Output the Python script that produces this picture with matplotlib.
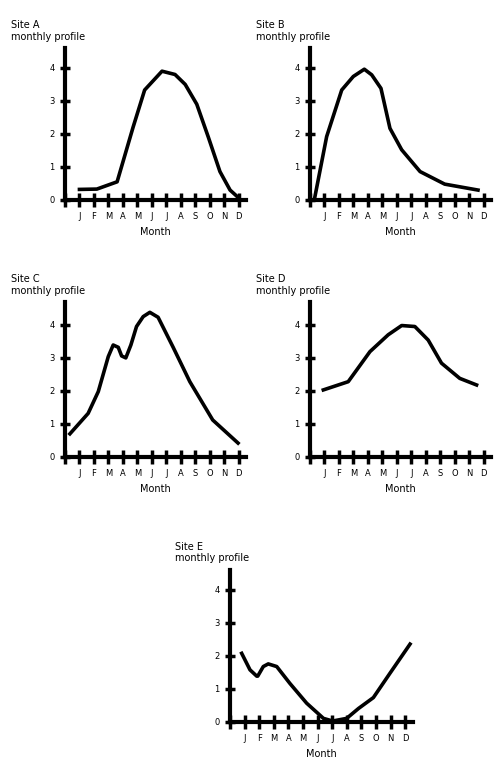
import matplotlib
matplotlib.use("Agg")
import matplotlib.pyplot as plt

# panel data (x = month position, y = value)
x1 = [1.0, 2.2, 3.6, 4.7, 5.5, 6.7, 7.6, 8.3, 9.1, 9.9, 10.7, 11.4, 11.9]
y1 = [0.32, 0.33, 0.55, 2.2, 3.33, 3.9, 3.8, 3.5, 2.9, 1.9, 0.86, 0.3, 0.1]

x2 = [0.34, 1.15, 2.19, 2.99, 3.75, 4.26, 4.9, 5.52, 6.33, 7.6, 9.3, 11.6]
y2 = [0.1, 1.92, 3.33, 3.74, 3.96, 3.79, 3.38, 2.17, 1.52, 0.86, 0.48, 0.3]

x3 = [0.34, 1.6, 2.3, 2.99, 3.33, 3.68, 3.91, 4.2, 4.55, 4.94, 5.4, 5.86,
      6.43, 7.47, 8.62, 10.2, 11.95]
y3 = [0.7, 1.32, 1.98, 3.04, 3.39, 3.32, 3.06, 3.0, 3.39, 3.95, 4.25, 4.38,
      4.23, 3.32, 2.28, 1.12, 0.42]

x4 = [0.92, 2.64, 4.14, 5.4, 6.33, 7.24, 8.16, 9.08, 10.34, 11.5]
y4 = [2.03, 2.28, 3.19, 3.7, 3.98, 3.95, 3.54, 2.84, 2.38, 2.18]

x5 = [0.8, 1.37, 1.83, 1.9, 2.28, 2.62, 3.2, 4.1, 5.25, 6.4, 7.03, 7.99,
      8.8, 9.82, 10.96, 12.33]
y5 = [2.07, 1.57, 1.38, 1.38, 1.67, 1.75, 1.67, 1.16, 0.56, 0.1, 0.02, 0.1,
      0.4, 0.73, 1.47, 2.35]

titles = ["Site A\nmonthly profile", "Site B\nmonthly profile",
          "Site C\nmonthly profile", "Site D\nmonthly profile",
          "Site E\nmonthly profile"]
months = ["", "J", "F", "M", "A", "M", "J", "J", "A", "S", "O", "N", "D"]
yticks = [0, 1, 2, 3, 4]

fig = plt.figure(figsize=(4.96, 7.83), dpi=100)

# axes boxes in figure fractions
boxes = [[0.131, 0.7446, 0.365, 0.194],
         [0.625, 0.7446, 0.365, 0.194],
         [0.131, 0.4164, 0.365, 0.198],
         [0.625, 0.4164, 0.365, 0.198],
         [0.4637, 0.0783, 0.368, 0.194]]
xs = [x1, x2, x3, x4, x5]
ys = [y1, y2, y3, y4, y5]

for box, x, y, t in zip(boxes, xs, ys, titles):
    ax = fig.add_axes(box)
    ax.plot(x, y, color="black", lw=2.6, solid_joinstyle="round")
    ax.set_xlim(0, 12.5)
    ax.set_ylim(0, 4.6 * box[3] / 0.194)
    for s in ["top", "right"]:
        ax.spines[s].set_visible(False)
    for s in ["left", "bottom"]:
        ax.spines[s].set_linewidth(3)
    ax.set_xticks(range(13))
    ax.set_xticklabels(months, fontsize=6)
    ax.set_yticks(yticks)
    ax.set_yticklabels([str(v) for v in yticks], fontsize=6)
    ax.tick_params(axis="x", direction="inout", length=10, width=2.5, pad=4)
    ax.tick_params(axis="y", direction="inout", length=7, width=2.5, pad=4)
    ax.set_xlabel("Month", fontsize=7)
    ax.set_title(t, fontsize=7, loc="left", x=-0.3)
    ax.patch.set_alpha(0)

fig.savefig("out.png", dpi=100)
